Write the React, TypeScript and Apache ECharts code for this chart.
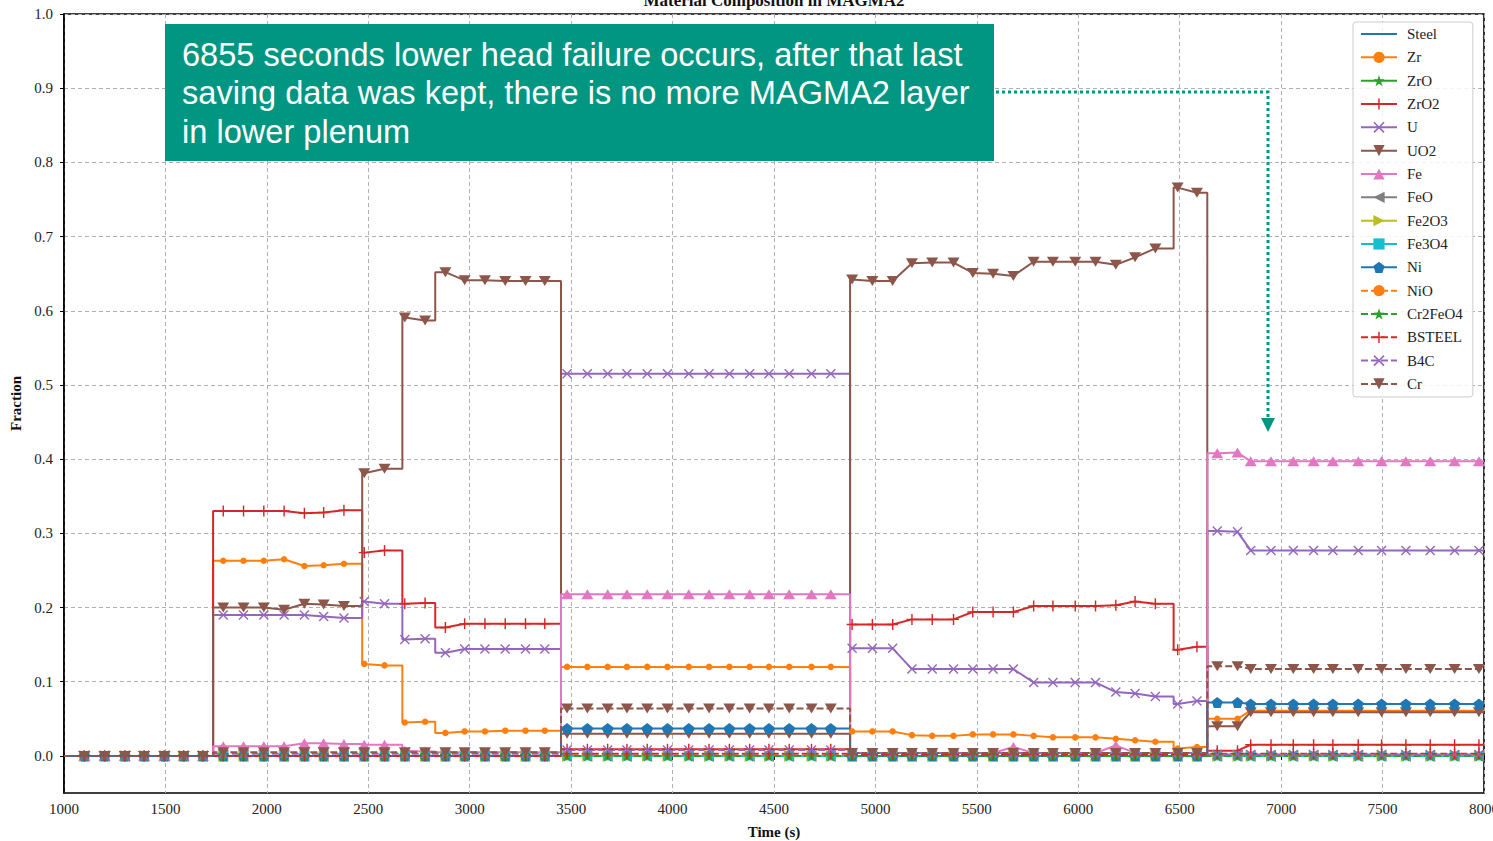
import React, { useEffect, useRef } from 'react';
import * as echarts from 'echarts';

// ---------- data ----------
const xTicks = [1000, 1500, 2000, 2500, 3000, 3500, 4000, 4500, 5000, 5500, 6000, 6500, 7000, 7500, 8000];
const yTicks = [0, 0.1, 0.2, 0.3, 0.4, 0.5, 0.6, 0.7, 0.8, 0.9, 1.0];

// times (s) where the MAGMA2 layer content changes abruptly
const phaseJumps = [1735, 2470, 3450, 4875, 6636];
const innerJumps = [2668, 2830, 6470];

// saved time points carrying markers, one list per phase
const markerTimes = [
  [1100, 1200, 1300, 1395, 1495, 1590, 1685],
  [1785, 1885, 1985, 2085, 2185, 2280, 2380],
  [2480, 2580, 2680, 2780, 2880, 2975, 3075, 3175, 3275, 3370],
  [3480, 3580, 3680, 3775, 3875, 3975, 4080, 4180, 4280, 4380, 4475, 4575, 4685, 4780],
  [4885, 4985, 5085, 5180, 5280, 5385, 5480, 5580, 5680, 5780, 5875, 5985, 6085, 6185, 6280, 6380, 6490, 6585],
  [6685, 6785, 6850, 6950, 7060, 7160, 7255, 7380, 7495, 7615, 7735, 7855, 7975],
];

// fraction values per phase: a number = same value at every saved point of that phase
const steel = [0, 0, 0, 0, 0, 0];
const zr = [
  0,
  [0.263, 0.263, 0.263, 0.265, 0.256, 0.257, 0.259],
  [0.124, 0.122, 0.045, 0.046, 0.031, 0.033, 0.033, 0.034, 0.034, 0.034],
  0.12,
  [0.033, 0.033, 0.033, 0.028, 0.027, 0.027, 0.029, 0.029, 0.029, 0.027, 0.025, 0.025, 0.025, 0.023, 0.021, 0.019, 0.01, 0.012],
  [0.05, 0.05, 0.061, 0.061, 0.061, 0.061, 0.061, 0.061, 0.061, 0.061, 0.061, 0.061, 0.061],
];
const zro = [0, 0, 0, 0, 0, 0];
const zro2 = [
  0,
  [0.33, 0.33, 0.33, 0.33, 0.327, 0.328, 0.331],
  [0.274, 0.277, 0.205, 0.206, 0.173, 0.178, 0.178, 0.178, 0.178, 0.178],
  0.009,
  [0.177, 0.177, 0.177, 0.184, 0.184, 0.184, 0.194, 0.194, 0.194, 0.202, 0.202, 0.202, 0.202, 0.203, 0.208, 0.205, 0.143, 0.147],
  [0.007, 0.007, 0.015, 0.015, 0.015, 0.015, 0.015, 0.015, 0.015, 0.015, 0.015, 0.015, 0.015],
];
const u = [
  0,
  [0.19, 0.19, 0.19, 0.19, 0.19, 0.188, 0.186],
  [0.208, 0.205, 0.157, 0.158, 0.139, 0.144, 0.144, 0.144, 0.144, 0.144],
  0.515,
  [0.145, 0.145, 0.145, 0.117, 0.117, 0.117, 0.117, 0.117, 0.117, 0.099, 0.099, 0.099, 0.099, 0.086, 0.084, 0.08, 0.07, 0.074],
  [0.303, 0.302, 0.277, 0.277, 0.277, 0.277, 0.277, 0.277, 0.277, 0.277, 0.277, 0.277, 0.277],
];
const uo2 = [
  0,
  [0.2, 0.2, 0.2, 0.197, 0.205, 0.204, 0.202],
  [0.381, 0.387, 0.591, 0.587, 0.652, 0.641, 0.641, 0.64, 0.64, 0.64],
  0.03,
  [0.642, 0.64, 0.64, 0.664, 0.665, 0.665, 0.651, 0.65, 0.647, 0.666, 0.666, 0.666, 0.666, 0.662, 0.672, 0.684, 0.766, 0.759],
  [0.04, 0.04, 0.059, 0.059, 0.059, 0.059, 0.059, 0.059, 0.059, 0.059, 0.059, 0.059, 0.059],
];
const fe = [
  0,
  [0.013, 0.013, 0.013, 0.013, 0.017, 0.017, 0.016],
  [0.015, 0.015, 0.007, 0.006, 0.005, 0.005, 0.005, 0.005, 0.005, 0.005],
  0.218,
  [0.004, 0.004, 0.004, 0.004, 0.004, 0.004, 0.004, 0.004, 0.012, 0.004, 0.004, 0.004, 0.004, 0.014, 0.004, 0.004, 0.004, 0.004],
  [0.408, 0.409, 0.397, 0.397, 0.397, 0.397, 0.397, 0.397, 0.397, 0.397, 0.397, 0.397, 0.397],
];
const feo = [0, 0, 0, 0, 0, 0];
const fe2o3 = [0, 0, 0, 0, 0, 0];
const fe3o4 = [0, 0, 0, 0, 0, 0];
const ni = [0, 0, 0, 0.037, 0, [0.072, 0.072, 0.07, 0.07, 0.07, 0.07, 0.07, 0.07, 0.07, 0.07, 0.07, 0.07, 0.07]];
const nio = [0, 0, 0, 0, 0, 0];
const cr2feo4 = [0, 0, 0, 0, 0, 0];
const bsteel = [0, 0, 0, 0.003, 0.002, 0.003];
const b4c = [0, 0.003, 0.003, 0.008, 0.004, 0.002];
const cr = [0, 0.005, 0.005, 0.064, 0.004, [0.121, 0.121, 0.117, 0.117, 0.117, 0.117, 0.117, 0.117, 0.117, 0.117, 0.117, 0.117, 0.117]];

// ---------- styling ----------
const tab = ['#1f77b4', '#ff7f0e', '#2ca02c', '#d62728', '#9467bd', '#8c564b', '#e377c2', '#7f7f7f', '#bcbd22', '#17becf'];
const STAR = 'path://M5,0 L6.176,3.382 L9.755,3.455 L6.902,5.618 L7.939,9.045 L5,7 L2.061,9.045 L3.098,5.618 L0.245,3.455 L3.824,3.382 Z';
const PLUS = 'path://M4.35,0H5.65V4.35H10V5.65H5.65V10H4.35V5.65H0V4.35H4.35Z';
const CROSS = 'path://M0,1L1,0L5,4L9,0L10,1L6,5L10,9L9,10L5,6L1,10L0,9L4,5Z';
const PENT = 'path://M5,0L9.755,3.455L7.939,9.045L2.061,9.045L0.245,3.455Z';
const PLAIN_LINE = 'path://M0,0M0,6H36V8H0ZM36,14';
const SERIF = '"Liberation Serif", "DejaVu Serif", serif';
const SANS = '"Liberation Sans", Arial, sans-serif';
const TEAL = '#009682';

const specs = [
  { name: 'Steel', data: steel, color: tab[0], dashed: false, symbol: 'none', size: 0, rotate: 0 },
  { name: 'Zr', data: zr, color: tab[1], dashed: false, symbol: 'circle', size: 6.5, rotate: 0 },
  { name: 'ZrO', data: zro, color: tab[2], dashed: false, symbol: STAR, size: 11, rotate: 0 },
  { name: 'ZrO2', data: zro2, color: tab[3], dashed: false, symbol: PLUS, size: 11, rotate: 0 },
  { name: 'U', data: u, color: tab[4], dashed: false, symbol: CROSS, size: 10, rotate: 0 },
  { name: 'UO2', data: uo2, color: tab[5], dashed: false, symbol: 'triangle', size: [12, 10], rotate: 180 },
  { name: 'Fe', data: fe, color: tab[6], dashed: false, symbol: 'triangle', size: [12, 10], rotate: 0 },
  { name: 'FeO', data: feo, color: tab[7], dashed: false, symbol: 'triangle', size: [12, 10], rotate: 90 },
  { name: 'Fe2O3', data: fe2o3, color: tab[8], dashed: false, symbol: 'triangle', size: [12, 10], rotate: -90 },
  { name: 'Fe3O4', data: fe3o4, color: tab[9], dashed: false, symbol: 'rect', size: 9, rotate: 0 },
  { name: 'Ni', data: ni, color: tab[0], dashed: false, symbol: PENT, size: 11, rotate: 0 },
  { name: 'NiO', data: nio, color: tab[1], dashed: true, symbol: 'circle', size: 6.5, rotate: 0 },
  { name: 'Cr2FeO4', data: cr2feo4, color: tab[2], dashed: true, symbol: STAR, size: 11, rotate: 0 },
  { name: 'BSTEEL', data: bsteel, color: tab[3], dashed: true, symbol: PLUS, size: 11, rotate: 0 },
  { name: 'B4C', data: b4c, color: tab[4], dashed: true, symbol: CROSS, size: 10, rotate: 0 },
  { name: 'Cr', data: cr, color: tab[5], dashed: true, symbol: 'triangle', size: [12, 10], rotate: 180 },
];

type Level = number | number[];

function buildPoints(levels: Level[]) {
  const seq: [number, number][] = [];
  levels.forEach((lv, p) => {
    const ts = markerTimes[p];
    ts.forEach((t, k) => seq.push([t, Array.isArray(lv) ? lv[k] : lv]));
  });
  const jumps = [...phaseJumps, ...innerJumps].sort((a, b) => a - b);
  const pts: any[] = [{ value: [xTicks[0], seq[0][1]], symbol: 'none' }];
  seq.forEach(([t, v], i) => {
    if (i > 0) {
      const [tp, vp] = seq[i - 1];
      jumps.filter((j) => j > tp && j < t).forEach((j) => {
        pts.push({ value: [j, vp], symbol: 'none' });
        pts.push({ value: [j, v], symbol: 'none' });
      });
    }
    pts.push({ value: [t, v] });
  });
  pts.push({ value: [xTicks[xTicks.length - 1], seq[seq.length - 1][1]], symbol: 'none' });
  return pts;
}

export default function App() {
  const ref = useRef<HTMLDivElement>(null);
  useEffect(() => {
    document.body.style.margin = '0';
    const chart = echarts.init(ref.current!, null, { renderer: 'svg' });
    const series = specs.map((s) => ({
      type: 'line',
      name: s.name,
      data: buildPoints(s.data as Level[]),
      symbol: s.symbol,
      symbolSize: s.size,
      symbolRotate: s.rotate,
      lineStyle: { color: s.color, width: 2, type: s.dashed ? [7, 3] : 'solid' },
      itemStyle: { color: s.color },
      emphasis: { disabled: true },
      silent: true,
    }));
    chart.setOption({
      animation: false,
      backgroundColor: '#ffffff',
      grid: {
        left: 64, right: 9, top: 14, bottom: 48, show: true, borderColor: '#000', borderWidth: 1.6,
        containLabel: false, outerBoundsMode: 'none',
      },
      xAxis: {
        type: 'value',
        min: 1000,
        max: 8000,
        interval: 500,
        name: 'Time (s)',
        nameLocation: 'middle',
        nameGap: 31,
        nameTextStyle: { fontFamily: SERIF, fontWeight: 'bold', fontSize: 15, color: '#111' },
        axisLine: { lineStyle: { color: '#000', width: 1.6 } },
        axisTick: { show: true, length: 4, lineStyle: { color: '#000' } },
        axisLabel: { fontFamily: SERIF, fontSize: 15, color: '#222', margin: 8, formatter: (v: number) => String(v) },
        splitLine: { show: true, lineStyle: { color: '#b0b0b0', type: [4, 3], width: 1 } },
      },
      yAxis: {
        type: 'value',
        min: -0.05,
        max: 1.0,
        name: 'Fraction',
        nameLocation: 'middle',
        nameGap: 39,
        nameTextStyle: { fontFamily: SERIF, fontWeight: 'bold', fontSize: 15, color: '#111' },
        axisLine: { show: true, lineStyle: { color: '#000', width: 1.6 } },
        axisTick: { show: true, length: 4, lineStyle: { color: '#000' }, customValues: yTicks },
        axisLabel: { fontFamily: SERIF, fontSize: 15, color: '#222', margin: 11, customValues: yTicks, formatter: (v: number) => v.toFixed(1) },
        splitLine: { show: true, lineStyle: { color: '#b0b0b0', type: [4, 3], width: 1 } },
      },
      legend: {
        orient: 'vertical',
        left: 1353,
        top: 22,
        data: specs.map((s) => (s.symbol === 'none' ? { name: s.name, icon: PLAIN_LINE } : { name: s.name })),
        itemWidth: 36,
        itemHeight: 14,
        itemGap: 7.33,
        padding: [4, 10, 5, 7],
        backgroundColor: 'rgba(255,255,255,0.85)',
        borderColor: '#cccccc',
        borderWidth: 1,
        borderRadius: 3,
        textStyle: { fontFamily: SERIF, fontSize: 15, color: '#222', lineHeight: 16, padding: [0, 0, 0, 5] },
        selectedMode: false,
      },
      graphic: [
        {
          type: 'text',
          x: 774,
          y: 0,
          z: 100,
          style: { text: 'Material Composition in MAGMA2', font: `bold 17px ${SERIF}`, fill: '#111', align: 'center', verticalAlign: 'middle' },
        },
        {
          type: 'rect',
          z: 100,
          shape: { x: 165, y: 24, width: 829, height: 137 },
          style: { fill: TEAL },
        },
        {
          type: 'text',
          x: 182,
          y: 92.5,
          z: 101,
          style: {
            text: '6855 seconds lower head failure occurs, after that last\nsaving data was kept, there is no more MAGMA2 layer\nin lower plenum',
            font: `32.6px ${SANS}`,
            lineHeight: 38.5,
            fill: '#ffffff',
            align: 'left',
            verticalAlign: 'middle',
          },
        },
        {
          type: 'polyline',
          z: 100,
          shape: { points: [[996, 92], [1268, 92], [1268, 418]] },
          style: { stroke: TEAL, lineWidth: 3, lineDash: [3, 3], fill: null },
        },
        {
          type: 'polygon',
          z: 100,
          shape: { points: [[1261, 418], [1275, 418], [1268, 432]] },
          style: { fill: TEAL },
        },
      ],
      series,
    });
    return () => chart.dispose();
  }, []);
  return <div ref={ref} style={{ width: 1493, height: 841 }} />;
}
